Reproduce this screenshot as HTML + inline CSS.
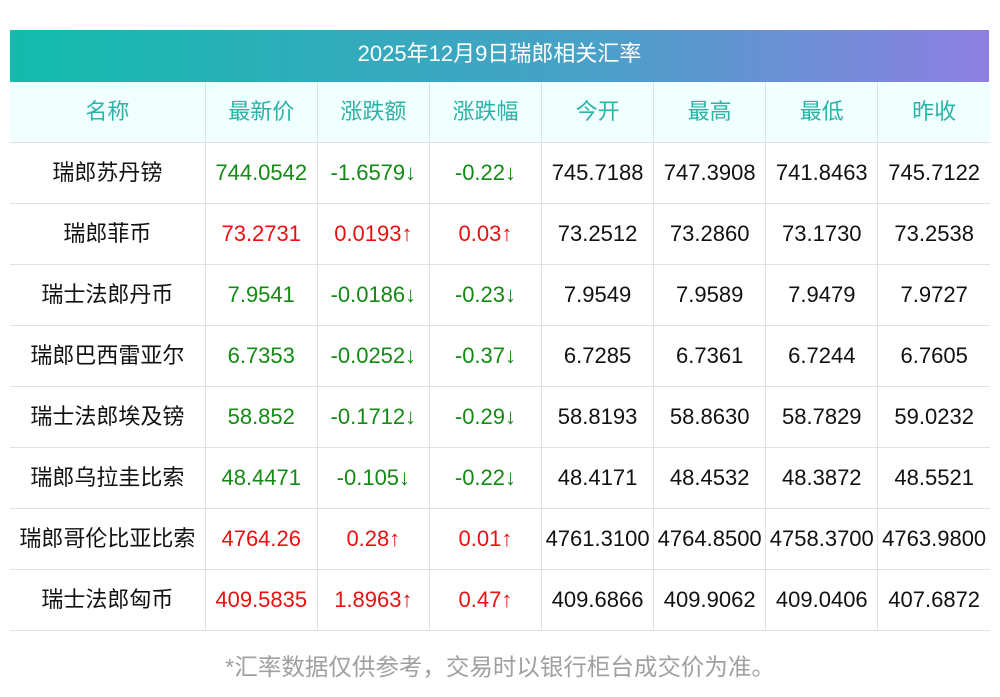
<!DOCTYPE html><html><head><meta charset="utf-8"><style>
body{margin:0;width:1000px;height:697px;background:#fff;font-family:"Liberation Sans","Noto Sans CJK SC",sans-serif;position:relative;overflow:hidden}
.t{position:absolute;left:10px;top:30px;width:979px;height:52px;background:linear-gradient(90deg,#12bbab,#4aa0c8 60%,#8e7fe2);color:#fff;font-size:22px;line-height:48px;text-align:center}
table{position:absolute;left:10px;top:82px;border-collapse:collapse;width:980px;table-layout:fixed}
td{height:60px;border:1px solid #e0e0ea;text-align:center;font-size:22px;color:#111;padding:0;white-space:nowrap;line-height:24px}
tr td:first-child{border-left:none}tr td:last-child{border-right:none}
tr:first-child td{border-top:none;background:#f0ffff;color:#2ab3a6}
.c{position:relative;top:0px}
.g{color:#138a13}.r{color:#e8110f}
.f{position:absolute;top:648px;width:1000px;text-align:center;font-size:23.5px;color:#a0a0a0}
</style></head><body>
<div class="t">2025年12月9日瑞郎相关汇率</div>
<table>
<colgroup><col style="width:195px"><col style="width:112px"><col style="width:112px"><col style="width:112px"><col style="width:112px"><col style="width:112px"><col style="width:112px"><col style="width:112px"></colgroup>
<tr><td><span class="c">名称</span></td><td><span class="c">最新价</span></td><td><span class="c">涨跌额</span></td><td><span class="c">涨跌幅</span></td><td><span class="c">今开</span></td><td><span class="c">最高</span></td><td><span class="c">最低</span></td><td><span class="c">昨收</span></td></tr>
<tr><td><span class="c">瑞郎苏丹镑</span></td><td class="g">744.0542</td><td class="g">-1.6579↓</td><td class="g">-0.22↓</td><td>745.7188</td><td>747.3908</td><td>741.8463</td><td>745.7122</td></tr>
<tr><td><span class="c">瑞郎菲币</span></td><td class="r">73.2731</td><td class="r">0.0193↑</td><td class="r">0.03↑</td><td>73.2512</td><td>73.2860</td><td>73.1730</td><td>73.2538</td></tr>
<tr><td><span class="c">瑞士法郎丹币</span></td><td class="g">7.9541</td><td class="g">-0.0186↓</td><td class="g">-0.23↓</td><td>7.9549</td><td>7.9589</td><td>7.9479</td><td>7.9727</td></tr>
<tr><td><span class="c">瑞郎巴西雷亚尔</span></td><td class="g">6.7353</td><td class="g">-0.0252↓</td><td class="g">-0.37↓</td><td>6.7285</td><td>6.7361</td><td>6.7244</td><td>6.7605</td></tr>
<tr><td><span class="c">瑞士法郎埃及镑</span></td><td class="g">58.852</td><td class="g">-0.1712↓</td><td class="g">-0.29↓</td><td>58.8193</td><td>58.8630</td><td>58.7829</td><td>59.0232</td></tr>
<tr><td><span class="c">瑞郎乌拉圭比索</span></td><td class="g">48.4471</td><td class="g">-0.105↓</td><td class="g">-0.22↓</td><td>48.4171</td><td>48.4532</td><td>48.3872</td><td>48.5521</td></tr>
<tr><td><span class="c">瑞郎哥伦比亚比索</span></td><td class="r">4764.26</td><td class="r">0.28↑</td><td class="r">0.01↑</td><td>4761.3100</td><td>4764.8500</td><td>4758.3700</td><td>4763.9800</td></tr>
<tr><td><span class="c">瑞士法郎匈币</span></td><td class="r">409.5835</td><td class="r">1.8963↑</td><td class="r">0.47↑</td><td>409.6866</td><td>409.9062</td><td>409.0406</td><td>407.6872</td></tr>
</table>
<div class="f">*汇率数据仅供参考，交易时以银行柜台成交价为准。</div>
</body></html>
